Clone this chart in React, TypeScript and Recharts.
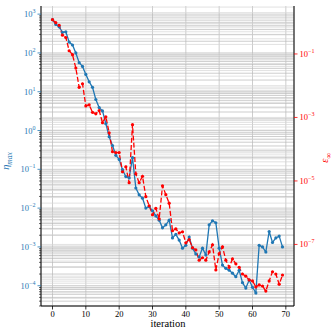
import React from "react";
import { ComposedChart, Line, XAxis, YAxis, CartesianGrid } from "recharts";

const ITERATIONS = [
  0, 1, 2, 3, 4, 5, 6, 7, 8, 9, 10, 11, 12, 13, 14, 15, 16, 17, 18, 19,
  20, 21, 22, 23, 24, 25, 26, 27, 28, 29, 30, 31, 32, 33, 34, 35, 36, 37, 38, 39,
  40, 41, 42, 43, 44, 45, 46, 47, 48, 49, 50, 51, 52, 53, 54, 55, 56, 57, 58, 59,
  60, 61, 62, 63, 64, 65, 66, 67, 68, 69,
];

// eta_max, left axis
const ETA_MAX = [
  7.2e2, 5.4e2, 4.7e2, 3.4e2, 3.5e2, 1.9e2, 1.6e2, 1.0e2, 5.6e1, 4.5e1,
  2.8e1, 1.8e1, 1.3e1, 6.3, 3.9, 3.2, 1.5, 0.69, 0.41, 0.23,
  0.18, 0.098, 0.065, 0.06, 0.2, 0.033, 0.022, 0.018, 0.01, 0.011,
  8.5e-3, 6.3e-3, 4.9e-3, 3.1e-3, 3.7e-3, 4.9e-3, 1.7e-3, 2.1e-3, 1.5e-3, 9.3e-4,
  1.1e-3, 1.8e-3, 9.3e-4, 6.6e-4, 5.5e-4, 9.3e-4, 6.2e-4, 3.7e-3, 4.7e-3, 4.2e-3,
  9.3e-4, 3.4e-4, 2.8e-4, 2.5e-4, 2.1e-4, 1.7e-4, 2.5e-4, 1.2e-4, 8.7e-5, 1.4e-4,
  9.1e-5, 6.5e-5, 1.1e-3, 1.0e-3, 7.4e-4, 2.5e-3, 1.3e-3, 1.7e-3, 1.9e-3, 1.0e-3,
];

// eps_inf, right axis
const EPS_INF = [
  1.2, 0.97, 0.8, 0.39, 0.33, 0.126, 0.095, 0.036, 8.9e-3, 1.15e-2,
  2.3e-3, 2.5e-3, 1.45e-3, 1.3e-3, 1.65e-3, 6.8e-4, 1.05e-3, 3.3e-4, 8.3e-5, 7.8e-5,
  7.8e-5, 1.95e-5, 2.8e-5, 8.8e-6, 5.9e-4, 1.67e-5, 8.8e-6, 1.4e-5, 3.2e-6, 1.64e-6,
  8.6e-7, 1.37e-6, 6.4e-7, 7.0e-6, 3.7e-6, 2.0e-6, 2.7e-7, 3.1e-7, 2.3e-7, 2.5e-7,
  1.12e-7, 1.42e-7, 7.9e-8, 6.7e-8, 3.2e-8, 3.8e-8, 3.2e-8, 5.8e-8, 9.7e-8, 1.57e-8,
  5.1e-8, 8.4e-8, 3.2e-8, 1.9e-8, 3.5e-8, 2.45e-8, 1.9e-8, 1.17e-8, 1.0e-8, 7.6e-9,
  7.1e-9, 4.6e-9, 5.3e-9, 4.9e-9, 3.4e-9, 7.1e-9, 1.38e-8, 1.17e-8, 5.6e-9, 1.08e-8,
];

const X_TICKS = [0, 10, 20, 30, 40, 50, 60, 70];
const RIGHT_TICKS = [1e-7, 1e-5, 1e-3, 1e-1];

const LEFT_DOMAIN: [number, number] = [3.0e-5, 1.62e3];
const RIGHT_DOMAIN: [number, number] = [1.15e-9, 3.24];
const X_DOMAIN: [number, number] = [-3.45, 72.45];

const BLUE = "#1f77b4";
const RED = "#ff0000";
const FONT = "Liberation Serif, DejaVu Serif, serif";

// log grid / tick positions: k * 10^e inside the domain
function logSteps(lo: number, hi: number) {
  const out: number[] = [];
  for (let e = Math.floor(Math.log10(lo)); e <= Math.ceil(Math.log10(hi)); e++) {
    for (let k = 1; k < 10; k++) {
      const v = k * Math.pow(10, e);
      if (v >= lo && v <= hi) out.push(v);
    }
  }
  return out;
}

const LEFT_STEPS = logSteps(LEFT_DOMAIN[0], LEFT_DOMAIN[1]);
const RIGHT_STEPS = logSteps(RIGHT_DOMAIN[0], RIGHT_DOMAIN[1]);

const data = ITERATIONS.map((it, i) => ({ it, eta: ETA_MAX[i], eps: EPS_INF[i] }));

function isDecade(v: number) {
  const e = Math.round(Math.log10(v));
  return Math.abs(v - Math.pow(10, e)) < 1e-6 * Math.pow(10, e);
}

function expText(v: number) {
  const e = Math.round(Math.log10(v));
  return e < 0 ? `\u2212${-e}` : `${e}`;
}

function LeftTick(props: any) {
  const { x, y, payload } = props;
  const major = isDecade(payload.value);
  return (
    <g>
      <line
        x1={x} x2={x - (major ? 3.5 : 2)} y1={y} y2={y}
        stroke={major ? BLUE : "#000"} strokeWidth={major ? 0.8 : 0.6}
      />
      {major && (
        <text x={x - 5.5} y={y + 3} textAnchor="end" fill={BLUE} fontSize={8.5} fontFamily={FONT}>
          10
          <tspan dy={-4} fontSize={6}>{expText(payload.value)}</tspan>
        </text>
      )}
    </g>
  );
}

function RightTick(props: any) {
  const { x, y, payload } = props;
  return (
    <g>
      <line x1={x} x2={x + 3.5} y1={y} y2={y} stroke={RED} strokeWidth={0.8} />
      <text x={x + 5.5} y={y + 3} textAnchor="start" fill={RED} fontSize={8.5} fontFamily={FONT}>
        10
        <tspan dy={-4} fontSize={6}>{expText(payload.value)}</tspan>
      </text>
    </g>
  );
}

const EtaLabel = () => (
  <text x={9} y={161} transform="rotate(-90 9 161)" textAnchor="middle" fill={BLUE} fontFamily={FONT} fontSize={10.5} fontStyle="italic">
    η<tspan dy={2.5} fontSize={7.5}>max</tspan>
  </text>
);

const EpsLabel = () => (
  <text x={328} y={158} transform="rotate(-90 328 158)" textAnchor="middle" fill={RED} fontFamily={FONT} fontSize={10.5} fontStyle="italic">
    ε<tspan dy={2.5} fontSize={7.5}>∞</tspan>
  </text>
);

const IterLabel = () => (
  <text x={168} y={327} textAnchor="middle" fill="#000" fontFamily={FONT} fontSize={10.5}>
    iteration
  </text>
);

export default function App() {
  return (
    <div style={{ position: "absolute", left: 0, top: 0, background: "#fff" }}>
      <ComposedChart width={331} height={332} data={data} margin={{ top: 6, right: 0, bottom: 0, left: 0 }}>
        <CartesianGrid
          xAxisId="main" yAxisId="left"
          horizontalValues={LEFT_STEPS}
          stroke="#b8b8b8" strokeWidth={0.7}
        />
        <CartesianGrid
          xAxisId="main" yAxisId="right"
          vertical={false}
          horizontalValues={RIGHT_STEPS}
          stroke="#d4d4d4" strokeWidth={0.7}
        />
        <XAxis
          xAxisId="main" dataKey="it" type="number" domain={X_DOMAIN} ticks={X_TICKS}
          allowDataOverflow interval={0} height={26}
          tickSize={3.5} tickMargin={1.5}
          tick={{ fontSize: 8.5, fill: "#000", fontFamily: FONT }}
          tickLine={{ stroke: "#000", strokeWidth: 0.8 }}
          axisLine={{ stroke: "#000", strokeWidth: 1 }}
          label={<IterLabel />}
        />
        <XAxis
          xAxisId="top" orientation="top" dataKey="it" type="number" domain={X_DOMAIN}
          height={0} tick={false} tickLine={false}
          axisLine={{ stroke: "#000", strokeWidth: 1 }}
        />
        <YAxis
          yAxisId="left" scale="log" domain={LEFT_DOMAIN} allowDataOverflow
          ticks={LEFT_STEPS} interval={0} width={41}
          tickSize={0} tickMargin={0} tickLine={false}
          tick={<LeftTick />}
          axisLine={{ stroke: "#000", strokeWidth: 1 }}
          label={<EtaLabel />}
        />
        <YAxis
          yAxisId="right" orientation="right" scale="log" domain={RIGHT_DOMAIN} allowDataOverflow
          ticks={RIGHT_TICKS} interval={0} width={37}
          tickSize={0} tickMargin={0} tickLine={false}
          tick={<RightTick />}
          axisLine={{ stroke: "#000", strokeWidth: 1 }}
          label={<EpsLabel />}
        />
        <Line
          xAxisId="main" yAxisId="left" dataKey="eta" type="linear"
          stroke={BLUE} strokeWidth={1.3}
          dot={{ r: 1.6, fill: BLUE, stroke: BLUE, strokeWidth: 0 }}
          isAnimationActive={false}
        />
        <Line
          xAxisId="main" yAxisId="right" dataKey="eps" type="linear"
          stroke={RED} strokeWidth={1.3} strokeDasharray="5 2.2"
          dot={{ r: 1.6, fill: RED, stroke: RED, strokeWidth: 0, strokeDasharray: "" }}
          isAnimationActive={false}
        />
      </ComposedChart>
    </div>
  );
}
